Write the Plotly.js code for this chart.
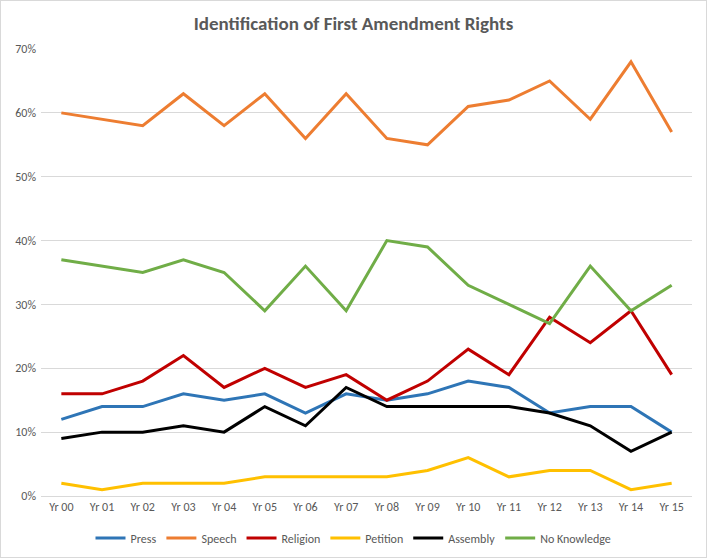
<!DOCTYPE html>
<html>
<head>
<meta charset="utf-8">
<script src="https://cdn.plot.ly/plotly-3.0.1.min.js"></script>
<style>
  html, body { margin: 0; padding: 0; background: #fff; }
  #chart { width: 707px; height: 558px; box-sizing: border-box; border: 1px solid #d9d9d9; }
</style>
</head>
<body>
<div id="chart"></div>
<script>
// Survey years
const years = ["Yr 00","Yr 01","Yr 02","Yr 03","Yr 04","Yr 05","Yr 06","Yr 07",
               "Yr 08","Yr 09","Yr 10","Yr 11","Yr 12","Yr 13","Yr 14","Yr 15"];

// Share of respondents naming each right (fractions)
const press       = [0.12,0.14,0.14,0.16,0.15,0.16,0.13,0.16,0.15,0.16,0.18,0.17,0.13,0.14,0.14,0.10];
const speech      = [0.60,0.59,0.58,0.63,0.58,0.63,0.56,0.63,0.56,0.55,0.61,0.62,0.65,0.59,0.68,0.57];
const religion    = [0.16,0.16,0.18,0.22,0.17,0.20,0.17,0.19,0.15,0.18,0.23,0.19,0.28,0.24,0.29,0.19];
const petition    = [0.02,0.01,0.02,0.02,0.02,0.03,0.03,0.03,0.03,0.04,0.06,0.03,0.04,0.04,0.01,0.02];
const assembly    = [0.09,0.10,0.10,0.11,0.10,0.14,0.11,0.17,0.14,0.14,0.14,0.14,0.13,0.11,0.07,0.10];
const noKnowledge = [0.37,0.36,0.35,0.37,0.35,0.29,0.36,0.29,0.40,0.39,0.33,0.30,0.27,0.36,0.29,0.33];

const seriesNames = ["Press","Speech","Religion","Petition","Assembly","No Knowledge"];
const seriesData  = [press, speech, religion, petition, assembly, noKnowledge];
const seriesColors = ["#2E75B6","#ED7D31","#C00000","#FFC000","#000000","#70AD47"];

const traces = seriesNames.map((name, i) => ({
  type: "scatter",
  mode: "lines",
  name: name,
  x: years,
  y: seriesData[i],
  line: { color: seriesColors[i], width: 3 },
  hovertemplate: "%{x}: %{y:.0%}<extra>" + name + "</extra>"
}));

const font = "Carlito, Calibri, Lato, 'Open Sans', sans-serif";

const layout = {
  width: 705,
  height: 556,
  paper_bgcolor: "#ffffff",
  plot_bgcolor: "#ffffff",
  margin: { l: 40, r: 14, t: 48, b: 61, autoexpand: false },
  title: {
    text: "<b>Identification of First Amendment Rights</b>",
    font: { family: font, size: 19, color: "#595959" },
    x: 0.5, xanchor: "center",
    yref: "container",
    y: 0.96, yanchor: "middle"
  },
  font: { family: font, size: 12, color: "#595959" },
  xaxis: {
    type: "category",
    range: [-0.5, 15.5],
    showgrid: false,
    zeroline: false,
    showline: true,
    linecolor: "#d9d9d9",
    linewidth: 1,
    ticks: "",
    tickfont: { family: font, size: 12, color: "#595959" },
    fixedrange: true
  },
  yaxis: {
    range: [0, 0.7],
    dtick: 0.1,
    tickformat: ".0%",
    showgrid: true,
    gridcolor: "#d9d9d9",
    gridwidth: 1,
    zeroline: false,
    showline: false,
    ticks: "",
    ticklabelstandoff: 4,
    tickfont: { family: font, size: 12, color: "#595959" },
    fixedrange: true
  },
  legend: {
    orientation: "h",
    xref: "container",
    yref: "container",
    x: 0.5, xanchor: "center",
    y: 0.034, yanchor: "middle",
    font: { family: font, size: 12, color: "#595959" },
    itemwidth: 30,
    tracegroupgap: 0
  },
  showlegend: true
};

Plotly.newPlot("chart", traces, layout, { displayModeBar: false, staticPlot: true });
</script>
</body>
</html>
